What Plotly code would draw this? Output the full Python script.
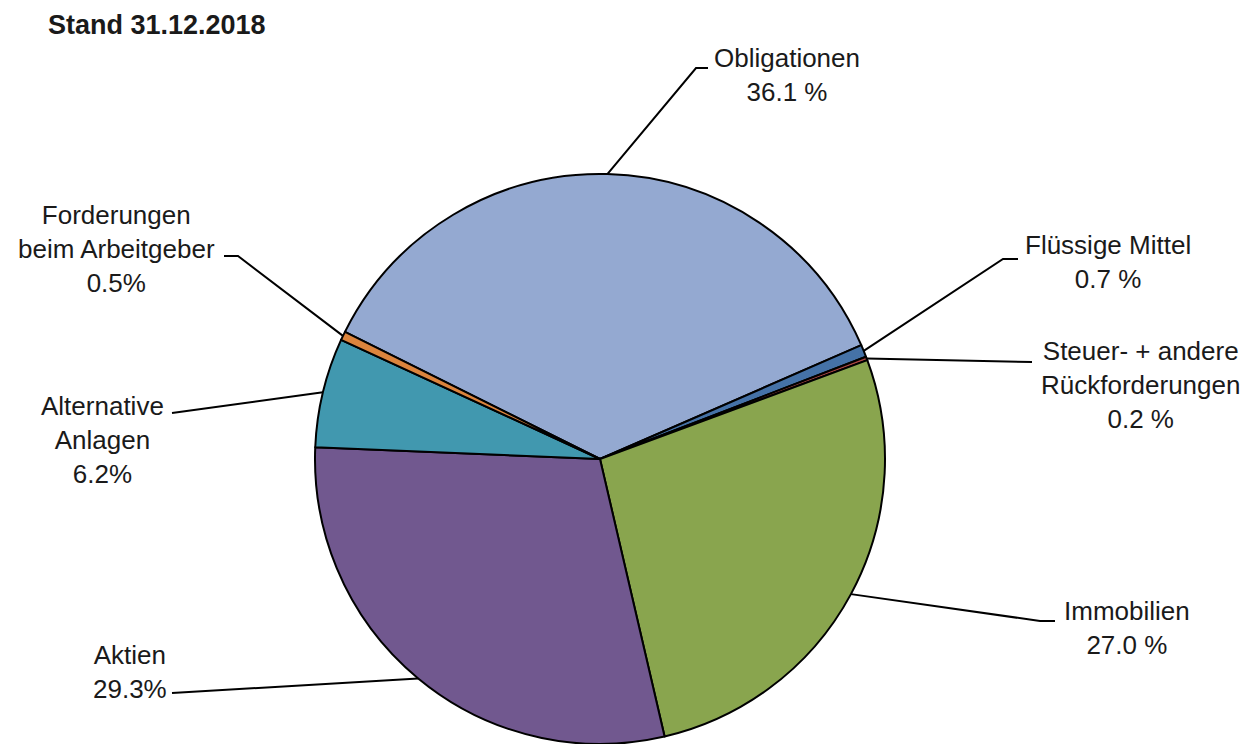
import math
import plotly.graph_objects as go

# Asset allocation, as of 31.12.2018 (percent)
categories = [
    "Obligationen",
    "Flüssige Mittel",
    "Steuer- + andere Rückforderungen",
    "Immobilien",
    "Aktien",
    "Alternative Anlagen",
    "Forderungen beim Arbeitgeber",
]
shares = [36.1, 0.7, 0.2, 27.0, 29.3, 6.2, 0.5]
label_texts = [
    "Obligationen<br>36.1 %",
    "Flüssige Mittel<br>0.7 %",
    "Steuer- + andere<br>Rückforderungen<br>0.2 %",
    "Immobilien<br>27.0 %",
    "Aktien<br>29.3%",
    "Alternative<br>Anlagen<br>6.2%",
    "Forderungen<br>beim Arbeitgeber<br>0.5%",
]
colors = ["#94A9D1", "#4572A7", "#AA4643", "#89A54E", "#71588F", "#4198AF", "#DB843D"]

# Canvas and pie geometry (pixels)
W, H = 1249, 744
R = 285
CX, CY = 600, H - R
ROTATION = 296.5  # start angle of the first slice, clockwise from 12 o'clock

# Label block centres and leader-line paths (elbow, end) in pixels
label_pos = [(787, 75), (1108, 262), (1140, 385), (1127, 628), (130, 672), (102, 440), (116, 249)]
leader_pts = [
    [(696, 68), (708, 68)],
    [(1003, 259), (1018, 259)],
    [(1032, 362)],
    [(1040, 621), (1055, 621)],
    [(172, 693)],
    [(172, 413)],
    [(238, 256), (224, 256)],
]


def px(x):
    return x / W


def py(y):
    return 1 - y / H


fig = go.Figure(
    go.Pie(
        labels=categories,
        values=shares,
        sort=False,
        direction="clockwise",
        rotation=ROTATION,
        marker=dict(colors=colors, line=dict(color="black", width=2)),
        textinfo="none",
        hoverinfo="label+percent",
        domain=dict(x=[(CX - 350) / W, (CX + 350) / W], y=[0, 2 * R / H]),
    )
)

# Leader lines from the outer edge at each slice's mid-angle
total = sum(shares)
cum = 0.0
shapes = []
annotations = []
for val, text, (lx, ly), pts in zip(shares, label_texts, label_pos, leader_pts):
    theta = math.radians(ROTATION + 360 * (cum + val / 2) / total)
    cum += val
    ax = CX + R * math.sin(theta)
    ay = CY - R * math.cos(theta)
    path = f"M {px(ax)} {py(ay)}" + "".join(f" L {px(x)} {py(y)}" for x, y in pts)
    shapes.append(dict(type="path", path=path, xref="paper", yref="paper",
                       line=dict(color="black", width=2)))
    annotations.append(dict(x=px(lx), y=py(ly), xref="paper", yref="paper", text=text,
                            showarrow=False, align="center", xanchor="center", yanchor="middle",
                            font=dict(size=26, color="#1a1a1a", family="Liberation Sans, Arial")))

annotations.append(dict(x=px(46), y=py(25), xref="paper", yref="paper", text="<b>Stand 31.12.2018</b>",
                        showarrow=False, xanchor="left", yanchor="middle",
                        font=dict(size=27, color="#1a1a1a", family="Liberation Sans, Arial")))

fig.update_layout(
    width=W,
    height=H,
    margin=dict(l=0, r=0, t=0, b=0),
    paper_bgcolor="white",
    plot_bgcolor="white",
    showlegend=False,
    shapes=shapes,
    annotations=annotations,
)

fig.write_html("out.html")
